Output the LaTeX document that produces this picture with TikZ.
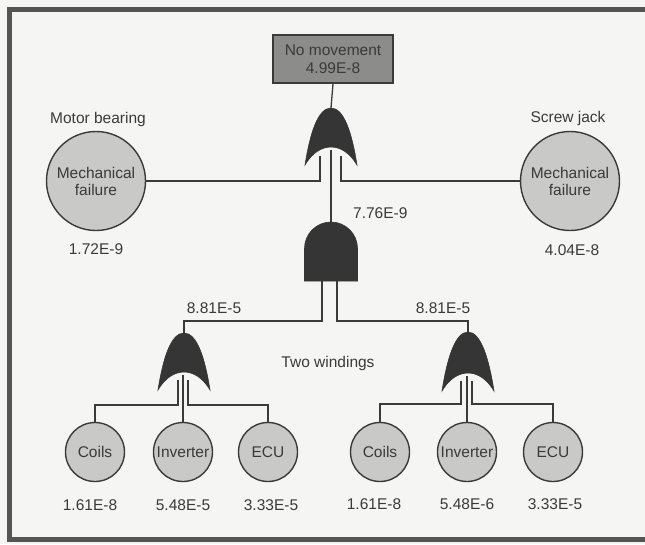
\documentclass[tikz,border=0pt]{standalone}
\usepackage{fontspec}
\setmainfont{Liberation Sans}
\definecolor{bg}{HTML}{F5F5F3}
\definecolor{frame}{HTML}{555555}
\definecolor{ink}{HTML}{3A3A3A}
\definecolor{gatefill}{HTML}{353535}
\definecolor{circfill}{HTML}{C9C9C7}
\definecolor{boxfill}{HTML}{8C8C8A}
\tikzset{
  conn/.style={draw=ink, line width=1.3pt},
  evt/.style={circle, draw=ink, line width=1.4pt, fill=circfill, inner sep=0pt, text=ink, align=center, font=\fontsize{15.5}{17}\selectfont},
  bigevt/.style={evt, minimum size=99pt},
  smallevt/.style={evt, minimum size=59pt},
  lbl/.style={text=ink, inner sep=0pt, font=\fontsize{15.5}{17}\selectfont},
  topbox/.style={rectangle, draw=ink, line width=1.4pt, fill=boxfill, text=ink, align=center, minimum width=120pt, minimum height=48pt, inner sep=0pt, font=\fontsize{15.5}{18}\selectfont},
  gatestyle/.style={fill=gatefill, draw=gatefill, line width=0.6pt}
}
\newcommand{\orgate}[4]{% name, cx, top, bottom
  \path[gatestyle] (#2-26,#4) .. controls (#2-21,#4-32) and (#2-13,#3) .. (#2,#3)
     .. controls (#2+13,#3) and (#2+21,#4-32) .. (#2+26,#4)
     .. controls (#2+12,#4-24) and (#2-12,#4-24) .. cycle;
  \coordinate (#1top) at (#2,#3);
}
\begin{document}
\begin{tikzpicture}[x=1pt,y=-1pt]
\useasboundingbox (0,0) rectangle (645,544);
\clip (0,0) rectangle (645,544);
\fill[bg] (0,0) rectangle (645,544);
\draw[frame, line width=5pt] (660,9.5) -- (9.5,9.5) -- (9.5,539.5) -- (660,539.5);

% top event
\node[topbox] (top) at (333,59) {No movement\\4.99E-8};

% main OR gate
\orgate{ora}{331}{108}{165}
\coordinate (oraL) at (320,156);
\coordinate (oraR) at (341,156);
\coordinate (oraC) at (331,150);

% AND gate
\path[gatestyle] (304.5,281) -- (304.5,248.5) arc[start angle=180, end angle=360, radius=26.5] -- (357.5,281) -- cycle;
\coordinate (andtop) at (331,222);
\coordinate (andL) at (322,281);
\coordinate (andR) at (337,281);

% side events
\node[bigevt] (mb) at (96,181) {Mechanical\\failure};
\node[bigevt] (sj) at (570,181) {Mechanical\\failure};
\node[lbl] (mbl) at (98,119) {Motor bearing};
\node[lbl] (mbp) at (96,249) {1.72E-9};
\node[lbl] (sjl) at (568,118) {Screw jack};
\node[lbl] (sjp) at (572,250) {4.04E-8};

\node[lbl, anchor=west] (andp) at (353,213) {7.76E-9};

% lower OR gates
\orgate{orb}{184}{333}{390}
\orgate{orc}{468}{332}{391}
\coordinate (orbL) at (178,380);
\coordinate (orbC) at (183,375);
\coordinate (orbR) at (188,380);
\coordinate (orcL) at (461,381);
\coordinate (orcC) at (467,376);
\coordinate (orcR) at (472,381);

\node[lbl] (orbp) at (214,308) {8.81E-5};
\node[lbl] (orcp) at (443,308) {8.81E-5};
\node[lbl] (tw) at (328,363) {Two windings};

% basic events
\node[smallevt] (c1) at (95,452) {Coils};
\node[smallevt] (i1) at (183,452) {Inverter};
\node[smallevt] (e1) at (268,452) {ECU};
\node[smallevt] (c2) at (380,452) {Coils};
\node[smallevt] (i2) at (467,452) {Inverter};
\node[smallevt] (e2) at (553,452) {ECU};
\node[lbl] (c1p) at (90,505) {1.61E-8};
\node[lbl] (i1p) at (183,505) {5.48E-5};
\node[lbl] (e1p) at (271,505) {3.33E-5};
\node[lbl] (c2p) at (374,504) {1.61E-8};
\node[lbl] (i2p) at (467,504) {5.48E-6};
\node[lbl] (e2p) at (555,504) {3.33E-5};

% connectors
\draw[conn] (top.south) -- (oratop);
\draw[conn] (oraC) -- (andtop);
\draw[conn] (oraL) |- (mb.east);
\draw[conn] (oraR) |- (sj.west);
\draw[conn] (andL) -- (322,321) -| (orbtop);
\draw[conn] (andR) -- (337,321) -| (orctop);
\draw[conn] (orbL) -- (178,405) -| (c1.north);
\draw[conn] (orbC) -- (i1.north);
\draw[conn] (orbR) -- (188,405) -| (e1.north);
\draw[conn] (orcL) -- (461,404) -| (c2.north);
\draw[conn] (orcC) -- (i2.north);
\draw[conn] (orcR) -- (472,404) -| (e2.north);
\end{tikzpicture}
\end{document}
